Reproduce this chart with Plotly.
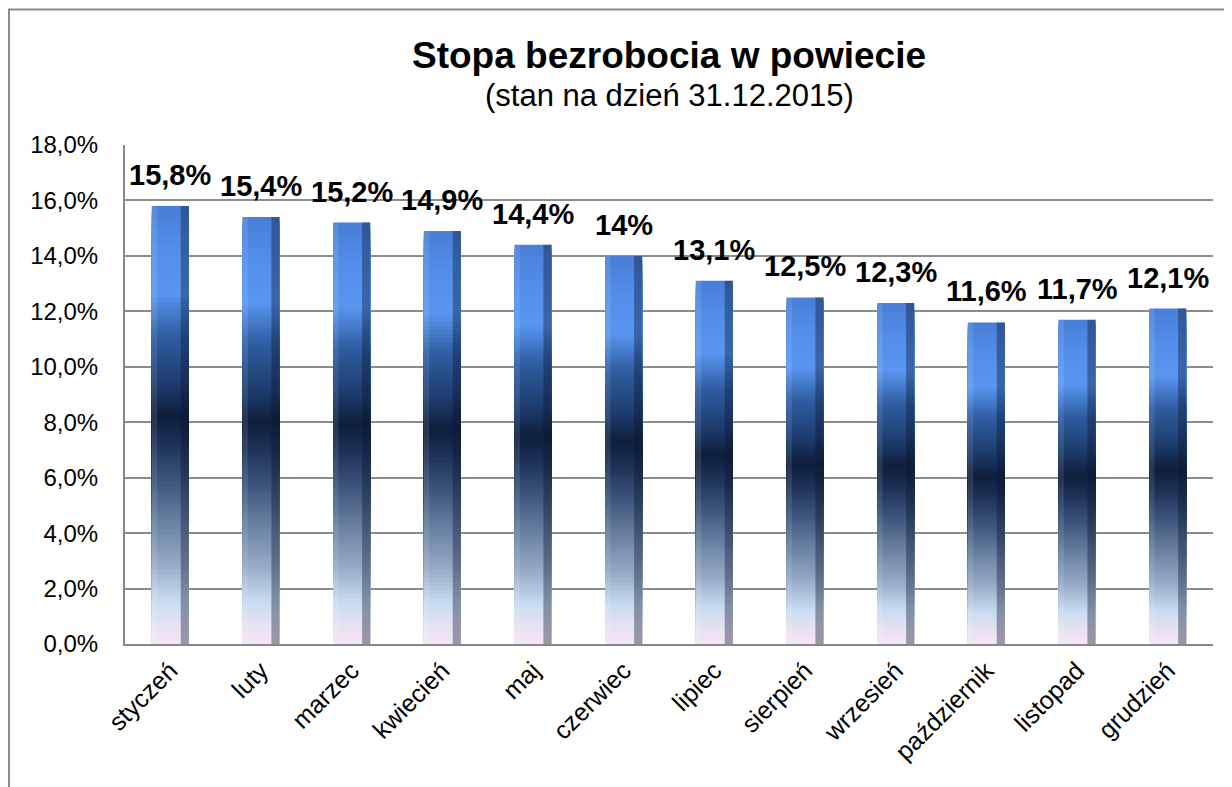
import plotly.graph_objects as go

months = ["styczeń", "luty", "marzec", "kwiecień", "maj", "czerwiec",
          "lipiec", "sierpień", "wrzesień", "październik", "listopad", "grudzień"]
rates = [15.8, 15.4, 15.2, 14.9, 14.4, 14.0, 13.1, 12.5, 12.3, 11.6, 11.7, 12.1]
labels = ["15,8%", "15,4%", "15,2%", "14,9%", "14,4%", "14%",
          "13,1%", "12,5%", "12,3%", "11,6%", "11,7%", "12,1%"]
y_ticks = [0, 2, 4, 6, 8, 10, 12, 14, 16, 18]
y_tick_text = ["0,0%", "2,0%", "4,0%", "6,0%", "8,0%", "10,0%",
               "12,0%", "14,0%", "16,0%", "18,0%"]

FONT = "Arial, Liberation Sans, sans-serif"

# vertical gradient stops (fraction of bar height -> colour)
stops = [
    (0.00, (244, 230, 244)),
    (0.04, (232, 226, 242)),
    (0.10, (200, 220, 240)),
    (0.18, (150, 172, 200)),
    (0.27, (110, 132, 165)),
    (0.37, (62, 86, 124)),
    (0.46, (28, 48, 86)),
    (0.52, (14, 30, 60)),
    (0.60, (30, 62, 112)),
    (0.70, (46, 92, 160)),
    (0.80, (88, 150, 240)),
    (0.90, (82, 142, 234)),
    (1.00, (72, 126, 214)),
]


def colour_at(f):
    for (f0, c0), (f1, c1) in zip(stops[:-1], stops[1:]):
        if f0 <= f <= f1:
            t = (f - f0) / (f1 - f0) if f1 > f0 else 0
            r, g, b = (round(a + (bb - a) * t) for a, bb in zip(c0, c1))
            return f"rgb({r},{g},{b})"
    r, g, b = stops[-1][1]
    return f"rgb({r},{g},{b})"


N = 100
BW = 0.41
fig = go.Figure()
for k in range(N, 0, -1):
    f_top = k / N
    f_mid = (k - 0.5) / N
    fig.add_trace(go.Bar(
        x=months, y=[v * f_top for v in rates],
        marker=dict(color=colour_at(f_mid), line=dict(width=0)),
        width=BW, offset=-BW / 2, hoverinfo="skip", showlegend=False,
    ))

# bevel shading strips
fig.add_trace(go.Bar(
    x=months, y=rates, marker=dict(color="rgba(10,20,45,0.38)", line=dict(width=0)),
    width=0.09, offset=BW / 2 - 0.09, hoverinfo="skip", showlegend=False,
))
fig.add_trace(go.Bar(
    x=months, y=rates, marker=dict(color="rgba(255,255,255,0.10)", line=dict(width=0)),
    width=0.06, offset=-BW / 2, hoverinfo="skip", showlegend=False,
))

# data labels
for m, v, t in zip(months, rates, labels):
    fig.add_annotation(x=m, y=v, text=f"<b>{t}</b>", showarrow=False,
                       yanchor="middle", yshift=31,
                       font=dict(family=FONT, size=29, color="black"))

# page has an 8px body margin: figure origin sits at page (8, 8)
ML, MR, MT, MB = 117, 19, 137, 143
W, H = 1224, 779

fig.add_annotation(xref="paper", yref="paper", x=0.5, y=1, yshift=90,
                   text="<b>Stopa bezrobocia w powiecie</b>", showarrow=False,
                   yanchor="middle", font=dict(family=FONT, size=37, color="black"))
fig.add_annotation(xref="paper", yref="paper", x=0.5, y=1, yshift=50,
                   text="(stan na dzień 31.12.2015)", showarrow=False,
                   yanchor="middle", font=dict(family=FONT, size=31, color="black"))

fig.add_shape(type="rect", xref="paper", yref="paper",
              xsizemode="pixel", ysizemode="pixel", xanchor=0, yanchor=1,
              x0=1 - ML, x1=1400, y0=-900, y1=MT - 1.5,
              line=dict(color="#8c8c8c", width=2), fillcolor="rgba(0,0,0,0)")

fig.update_layout(
    width=W, height=H,
    margin=dict(l=ML, r=MR, t=MT, b=MB),
    barmode="overlay",
    paper_bgcolor="white", plot_bgcolor="white",
    font=dict(family=FONT, color="black"),
)
fig.update_xaxes(
    tickangle=-45, tickfont=dict(size=25, family=FONT),
    showline=True, linecolor="#888888", linewidth=2,
    showgrid=False, ticks="",
)
fig.update_yaxes(
    range=[0, 18], tickmode="array", tickvals=y_ticks, ticktext=y_tick_text,
    tickfont=dict(size=24, family=FONT),
    showline=True, linecolor="#888888", linewidth=2,
    showgrid=True, gridcolor="#8c8c8c", gridwidth=1.5,
    zeroline=False, ticks="", ticklabelstandoff=20,
)

fig.write_html("out.html")
